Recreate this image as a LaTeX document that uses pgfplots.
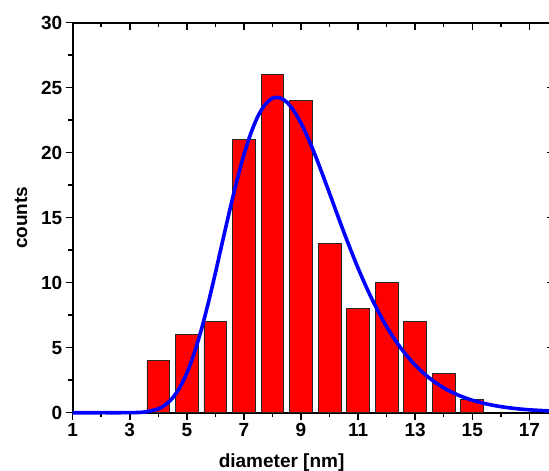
\documentclass[border=0pt]{standalone}
\usepackage{fontspec}
\setmainfont{Liberation Sans}
\usepackage{pgfplots}
\pgfplotsset{compat=1.18}
\begin{document}
\begin{tikzpicture}
\pgfplotsset{
  common/.style={
    width=480.9pt, height=390pt, scale only axis,
    xmin=1, xmax=17.85, ymin=0, ymax=30,
    xtick={1,3,...,17}, minor x tick num=1,
    ytick={0,5,...,30}, minor y tick num=1,
    axis line style={line width=1.8pt, black},
    major tick style={line width=1.5pt, black},
    minor tick style={line width=1.5pt, black},
    major tick length=7pt, minor tick length=4.5pt,
    /pgf/number format/assume math mode=true,
    tick label style={font=\fontsize{19}{23}\selectfont\bfseries},
  }
}
\begin{axis}[common, tick align=outside, xtick pos=bottom, ytick pos=left,
  xlabel={diameter [nm]}, ylabel={counts},
  label style={font=\fontsize{19}{23}\selectfont\bfseries},
  xlabel style={at={(axis description cs:0.4344,-0.1405)}, anchor=base},
  ylabel style={at={(axis description cs:-0.1075,0.5)}, anchor=center},
]
\end{axis}
\begin{axis}[common, tick align=inside, xtick pos=top, ytick pos=right,
  xticklabels={}, yticklabels={}, clip=false]
\addplot[ybar, bar width=0.8, bar shift=0pt, fill=red, draw=black!85, line width=0.8pt]
  coordinates {(4,4) (5,6) (6,7) (7,21) (8,26) (9,24) (10,13) (11,8) (12,10) (13,7) (14,3) (15,1)};
\addplot[blue, line width=3.6pt, smooth] coordinates {
(1,0) (2,0) (3,0.004) (3.5,0.049) (4,0.299) (4.25,0.611) (4.5,1.135) (4.75,1.932)
(5,3.053) (5.25,4.527) (5.5,6.334) (5.75,8.436) (6,10.75) (6.25,13.17) (6.5,15.56)
(6.75,17.82) (7,19.85) (7.25,21.54) (7.5,22.85) (7.75,23.73) (8,24.19) (8.25,24.23)
(8.5,23.89) (8.75,23.22) (9,22.27) (9.25,21.11) (9.5,19.79) (9.75,18.35) (10,16.87)
(10.5,13.89) (11,11.11) (11.5,8.67) (12,6.62) (12.5,4.96) (13,3.66) (13.5,2.66)
(14,1.91) (14.5,1.361) (15,0.958) (15.5,0.672) (16,0.467) (16.5,0.323) (17,0.222)
(17.85,0.117)};
\end{axis}
\pgfresetboundingbox
\useasboundingbox (-72.7pt,-58.3pt) rectangle (476.3pt,412.7pt);
\end{tikzpicture}
\end{document}
